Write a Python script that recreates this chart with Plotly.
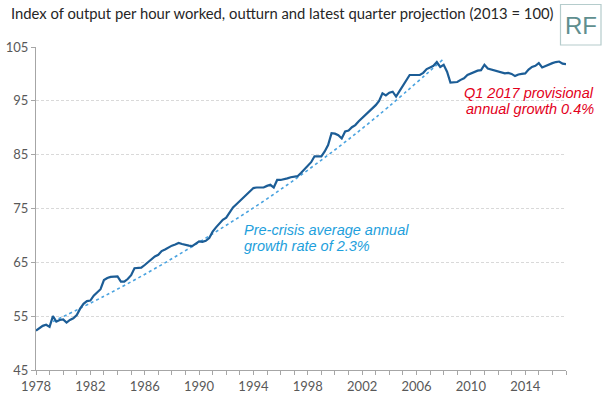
import pandas as pd
import plotly.graph_objects as go

# ---- data ----
quarters = pd.period_range("1978Q1", "2017Q1", freq="Q").to_timestamp()

productivity = [
    52.3, 52.8, 53.2, 53.4,   # 1978
    53.0, 55.0, 54.0, 54.3,   # 1979
    54.4, 53.8, 54.3, 54.6,   # 1980
    55.2, 56.4, 57.3, 57.8,   # 1981
    57.9, 58.8, 59.4, 60.0,   # 1982
    61.7, 62.1, 62.3, 62.4,   # 1983
    62.4, 61.4, 61.4, 61.9,   # 1984
    62.6, 63.9, 63.9, 64.0,   # 1985
    64.5, 65.0, 65.6, 66.1,   # 1986
    66.4, 67.1, 67.4, 67.8,   # 1987
    68.1, 68.3, 68.6, 68.4,   # 1988
    68.2, 68.1, 68.0, 68.5,   # 1989
    68.9, 68.8, 69.0, 69.5,   # 1990
    70.7, 71.5, 72.3, 72.9,   # 1991
    73.3, 74.3, 75.2, 75.8,   # 1992
    76.4, 77.0, 77.5, 78.2,   # 1993
    78.8, 78.9, 78.9, 78.9,   # 1994
    79.2, 79.4, 78.9, 80.3,   # 1995
    80.3, 80.4, 80.6, 80.8,   # 1996
    80.9, 81.0, 81.6, 82.3,   # 1997
    82.9, 83.6, 84.7, 84.7,   # 1998
    84.7, 85.6, 86.8, 89.0,   # 1999
    88.9, 88.6, 88.0, 89.3,   # 2000
    89.5, 90.1, 90.5, 91.2,   # 2001
    91.8, 92.3, 93.0, 93.5,   # 2002
    94.2, 95.0, 96.4, 96.0,   # 2003
    96.5, 96.7, 95.8, 96.8,   # 2004
    97.8, 98.8, 99.8, 99.8,   # 2005
    99.8, 99.8, 100.2, 100.9, # 2006
    101.2, 101.5, 102.2, 101.3, # 2007
    101.7, 100.4, 98.4, 98.4, # 2008
    98.5, 98.9, 99.2, 99.8,   # 2009
    100.1, 100.4, 100.6, 100.7, # 2010
    101.7, 101.0, 100.8, 100.6, # 2011
    100.4, 100.2, 100.1, 100.2, # 2012
    100.0, 99.6, 99.9, 100.0, # 2013
    100.1, 100.8, 101.3, 101.5, # 2014
    102.0, 101.2, 101.5, 101.8, # 2015
    102.0, 102.2, 102.3, 101.9, # 2016
    101.8,                    # 2017 Q1
]

trend_dates = ["1979-04-01", "1983-01-01", "1987-01-01", "1991-01-01",
               "1995-01-01", "1999-01-01", "2003-01-01", "2008-01-01"]
trend_values = [54.0, 58.7, 64.2, 70.3, 76.8, 84.0, 91.9, 102.8]

y_ticks = [45, 55, 65, 75, 85, 95, 105]

title_text = "Index of output per hour worked, outturn and latest quarter projection (2013 = 100)"
trend_label = ["Pre-crisis average annual", "growth rate of 2.3%"]
latest_label = ["Q1 2017 provisional", "annual growth 0.4%"]

# ---- figure ----
fig = go.Figure()
fig.add_trace(go.Scatter(
    x=trend_dates, y=trend_values, mode="lines",
    line=dict(color="#4aa3e0", width=1.6, dash="dot", shape="spline"),
    hoverinfo="skip", showlegend=False))
fig.add_trace(go.Scatter(
    x=quarters, y=productivity, mode="lines",
    line=dict(color="#1c5d96", width=2.2),
    showlegend=False))

PL, PR, PT, PB = 36, 39, 47, 27
W, H = 605, 397
pw, ph = W - PL - PR, H - PT - PB

def px(xp):
    return (xp - PL) / pw

def py(yp):
    return (H - PB - yp) / ph

tick_font = dict(family="Lato, Open Sans, sans-serif", size=13, color="#595959")

fig.update_layout(
    width=W, height=H,
    margin=dict(l=PL, r=PR, t=PT, b=PB, autoexpand=False),
    paper_bgcolor="white", plot_bgcolor="white",
    xaxis=dict(
        type="date", range=["1978-01-01", "2017-01-01"],
        tick0="1978-01-01", dtick="M48", tickformat="%Y",
        ticks="outside", ticklen=4, tickcolor="#a6a6a6",
        minor=dict(dtick="M12", ticks="outside", ticklen=4, tickcolor="#a6a6a6", showgrid=False),
        showline=True, linecolor="#a6a6a6", linewidth=1, automargin=False,
        showgrid=False, zeroline=False, tickfont=tick_font),
    yaxis=dict(
        range=[45, 105], tickvals=y_ticks,
        ticks="outside", ticklen=4, tickcolor="#a6a6a6",
        showline=True, linecolor="#a6a6a6", linewidth=1, automargin=False,
        showgrid=True, gridcolor="#d9d9d9", griddash="3px,2px", gridwidth=1,
        zeroline=False, tickfont=tick_font),
)

ann = []
ann.append(dict(text=title_text, xref="paper", yref="paper", x=px(9), y=py(13),
                xanchor="left", yanchor="middle", showarrow=False,
                font=dict(family="Lato, sans-serif", size=14.8, color="#262626")))
for i, t in enumerate(trend_label):
    ann.append(dict(text=t, xref="paper", yref="paper", x=px(242), y=py(230 + 16 * i),
                    xanchor="left", yanchor="middle", showarrow=False,
                    font=dict(family="Liberation Sans, Arial, sans-serif", size=14.5,
                              color="#1ea0dc", style="italic")))
for i, t in enumerate(latest_label):
    ann.append(dict(text=t, xref="paper", yref="paper", x=px(596), y=py(93 + 15.5 * i),
                    xanchor="right", yanchor="middle", showarrow=False,
                    font=dict(family="Liberation Sans, Arial, sans-serif", size=14.5,
                              color="#e3001b", style="italic")))
ann.append(dict(text="RF", xref="paper", yref="paper", x=px(580.5), y=py(25),
                xanchor="center", yanchor="middle", showarrow=False,
                font=dict(family="Liberation Sans, Arial, sans-serif", size=24, color="#5f8f8f")))
fig.update_layout(annotations=ann)

fig.add_shape(type="rect", xref="paper", yref="paper",
              x0=px(560.5), x1=px(601), y0=py(45), y1=py(4.5),
              line=dict(color="#b5cccc", width=1.2), fillcolor="rgba(0,0,0,0)")

fig.write_html("out.html", config={"displayModeBar": False},
               post_script="document.body.style.margin='0px';")
